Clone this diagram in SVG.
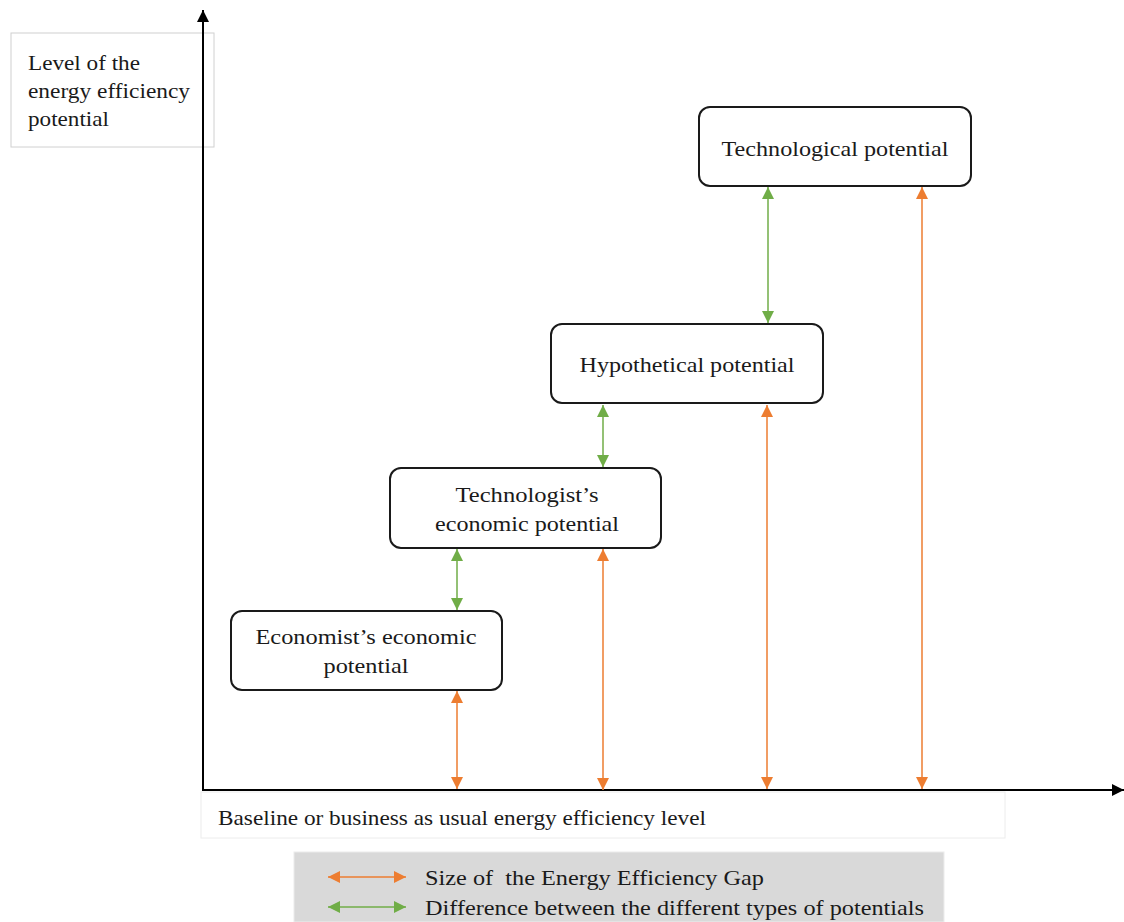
<svg xmlns="http://www.w3.org/2000/svg" width="1124" height="922" viewBox="0 0 1124 922">
<style>
text{font-family:"Liberation Serif","Times New Roman",serif;font-size:22px;fill:#1a1a1a}
.node rect{fill:#fff;stroke:#1a1a1a;stroke-width:2}
.mid{text-anchor:middle}
.og{stroke:#ED7D31;stroke-width:1.5;fill:none}
.gr{stroke:#70AD47;stroke-width:1.5;fill:none}
.ax{stroke:#000;stroke-width:2;fill:none}
</style>
<defs>
<marker id="ao" viewBox="0 0 10 10" refX="10" refY="5" markerWidth="12" markerHeight="12" markerUnits="userSpaceOnUse" orient="auto-start-reverse"><path d="M0,0L10,5L0,10z" fill="#ED7D31"/></marker>
<marker id="ag" viewBox="0 0 10 10" refX="10" refY="5" markerWidth="12" markerHeight="12" markerUnits="userSpaceOnUse" orient="auto-start-reverse"><path d="M0,0L10,5L0,10z" fill="#70AD47"/></marker>
<marker id="ak" viewBox="0 0 10 10" refX="10" refY="5" markerWidth="12" markerHeight="12" markerUnits="userSpaceOnUse" orient="auto"><path d="M0,0L10,5L0,10z" fill="#000"/></marker>
</defs>
<rect width="1124" height="922" fill="#fff"/>
<g id="ylabel">
<rect x="11" y="33" width="203" height="114" fill="#fff" stroke="#d0d0d0" stroke-width="1"/>
<text x="28" y="70" textLength="112" lengthAdjust="spacingAndGlyphs">Level of the</text>
<text x="28" y="98" textLength="162" lengthAdjust="spacingAndGlyphs">energy efficiency</text>
<text x="28" y="126" textLength="81" lengthAdjust="spacingAndGlyphs">potential</text>
</g>
<g id="baseline">
<rect x="201" y="792" width="804" height="46" fill="#fff" stroke="#ececec" stroke-width="1"/>
<text x="218" y="825" textLength="488" lengthAdjust="spacingAndGlyphs">Baseline or business as usual energy efficiency level</text>
</g>
<g id="axes">
<line class="ax" x1="203" y1="791" x2="203" y2="10" marker-end="url(#ak)"/>
<line class="ax" x1="202" y1="790" x2="1124" y2="790" marker-end="url(#ak)" stroke="#555"/>
</g>
<g id="n1" class="node"><rect x="699" y="107" width="272" height="79" rx="11"/><text class="mid" x="835" y="156" textLength="227" lengthAdjust="spacingAndGlyphs">Technological potential</text></g>
<g id="n2" class="node"><rect x="551" y="324" width="272" height="79" rx="11"/><text class="mid" x="687" y="372" textLength="215" lengthAdjust="spacingAndGlyphs">Hypothetical potential</text></g>
<g id="n3" class="node"><rect x="390" y="468" width="271" height="80" rx="11"/><text class="mid" x="527" y="502" textLength="143" lengthAdjust="spacingAndGlyphs">Technologist’s</text><text class="mid" x="527" y="531" textLength="184" lengthAdjust="spacingAndGlyphs">economic potential</text></g>
<g id="n4" class="node"><rect x="231" y="611" width="271" height="79" rx="11"/><text class="mid" x="366" y="644" textLength="221" lengthAdjust="spacingAndGlyphs">Economist’s economic</text><text class="mid" x="366" y="673" textLength="85" lengthAdjust="spacingAndGlyphs">potential</text></g>
<g id="connectors">
<line class="gr" x1="768" y1="187" x2="768" y2="323" marker-start="url(#ag)" marker-end="url(#ag)"/>
<line class="og" x1="922" y1="187" x2="922" y2="789" marker-start="url(#ao)" marker-end="url(#ao)"/>
<line class="gr" x1="603" y1="405" x2="603" y2="467" marker-start="url(#ag)" marker-end="url(#ag)"/>
<line class="og" x1="767" y1="405" x2="767" y2="789" marker-start="url(#ao)" marker-end="url(#ao)"/>
<line class="gr" x1="457" y1="549" x2="457" y2="610" marker-start="url(#ag)" marker-end="url(#ag)"/>
<line class="og" x1="603" y1="549" x2="603" y2="790" marker-start="url(#ao)" marker-end="url(#ao)"/>
<line class="og" x1="457" y1="691" x2="457" y2="789" marker-start="url(#ao)" marker-end="url(#ao)"/>
</g>
<g id="legend">
<rect x="294" y="852" width="650" height="70" fill="#d9d9d9" stroke="#ececec"/>
<line class="og" x1="328" y1="877" x2="406" y2="877" marker-start="url(#ao)" marker-end="url(#ao)"/>
<line class="gr" x1="328" y1="907" x2="406" y2="907" marker-start="url(#ag)" marker-end="url(#ag)"/>
<text x="425" y="885" xml:space="preserve" textLength="339" lengthAdjust="spacingAndGlyphs">Size of  the Energy Efficiency Gap</text>
<text x="425" y="915" textLength="499" lengthAdjust="spacingAndGlyphs">Difference between the different types of potentials</text>
</g>
</svg>
